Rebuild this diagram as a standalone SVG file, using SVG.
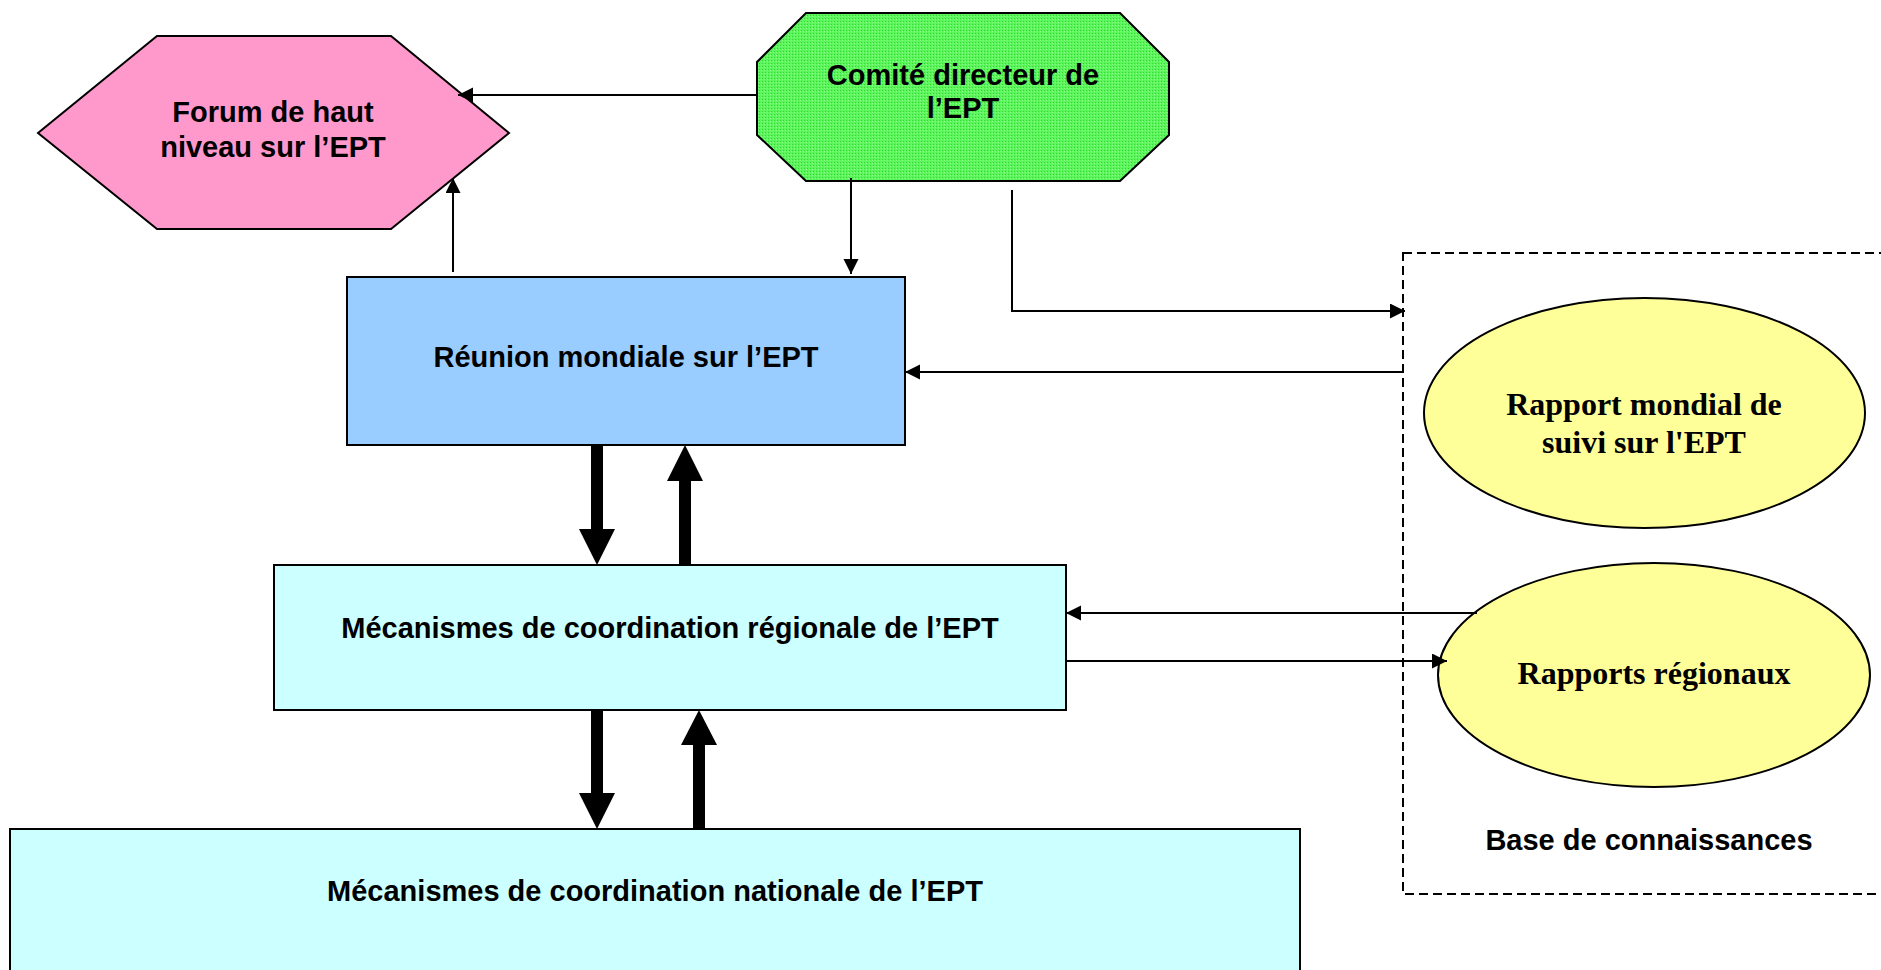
<svg xmlns="http://www.w3.org/2000/svg" width="1881" height="970" viewBox="0 0 1881 970">
  <style>
    .shape { stroke: #000; stroke-width: 2; }
    .lbl { font-family: "Liberation Sans", Arial, sans-serif; font-weight: bold; font-size: 29px; fill: #000; text-anchor: middle; }
    .lbls { font-family: "Liberation Serif", "Times New Roman", serif; font-weight: bold; font-size: 32px; fill: #000; text-anchor: middle; }
    .conn { stroke: #000; stroke-width: 2; fill: none; }
    .thick { fill: #000; stroke: none; }
  </style>
  <defs>
    <marker id="ah" markerUnits="userSpaceOnUse" markerWidth="16" markerHeight="16" refX="15" refY="7.5" orient="auto">
      <path d="M0,0 L15,7.5 L0,15 z" fill="#000"/>
    </marker>
    <pattern id="greenTex" patternUnits="userSpaceOnUse" width="3" height="3">
      <rect width="3" height="3" fill="#5cf55c"/>
      <rect x="0" y="0" width="1" height="1" fill="#33d633"/>
      <rect x="2" y="1" width="1" height="1" fill="#8cff8c"/>
    </pattern>
  </defs>

  <g id="knowledge-base">
    <rect x="1403" y="253" width="490" height="641" fill="none" stroke="#000" stroke-width="2" stroke-dasharray="9,5"/>
    <text class="lbl" x="1649" y="850">Base de connaissances</text>
  </g>

  <g id="forum">
    <polygon class="shape" points="157,36 391,36 509,133 391,229 157,229 38,133" fill="#ff99cc"/>
    <text class="lbl" x="273" y="122" font-size="28">Forum de haut</text>
    <text class="lbl" x="273" y="157" font-size="28">niveau sur l’EPT</text>
  </g>

  <g id="comite">
    <polygon class="shape" points="806,13 1120,13 1169,62 1169,135 1120,181 806,181 757,135 757,62" fill="url(#greenTex)"/>
    <text class="lbl" x="963" y="85">Comité directeur de</text>
    <text class="lbl" x="963" y="118">l’EPT</text>
  </g>

  <g id="reunion">
    <rect class="shape" x="347" y="277" width="558" height="168" fill="#99ccff"/>
    <text class="lbl" x="626" y="367">Réunion mondiale sur l’EPT</text>
  </g>

  <g id="regional">
    <rect class="shape" x="274" y="565" width="792" height="145" fill="#ccffff"/>
    <text class="lbl" x="670" y="638">Mécanismes de coordination régionale de l’EPT</text>
  </g>

  <g id="national">
    <rect class="shape" x="10" y="829" width="1290" height="160" fill="#ccffff"/>
    <text class="lbl" x="655" y="901">Mécanismes de coordination nationale de l’EPT</text>
  </g>

  <g id="rapport-mondial">
    <ellipse class="shape" cx="1644.5" cy="413" rx="220.5" ry="115" fill="#ffff99"/>
    <text class="lbls" x="1644" y="415">Rapport mondial de</text>
    <text class="lbls" x="1644" y="453">suivi sur l'EPT</text>
  </g>

  <g id="rapports-regionaux">
    <ellipse class="shape" cx="1654" cy="675" rx="216" ry="112" fill="#ffff99"/>
    <text class="lbls" x="1654" y="684">Rapports régionaux</text>
  </g>

  <g id="connectors">
    <line class="conn" x1="757" y1="95" x2="458" y2="95" marker-end="url(#ah)"/>
    <line class="conn" x1="453" y1="272" x2="453" y2="178" marker-end="url(#ah)"/>
    <line class="conn" x1="851" y1="178" x2="851" y2="274" marker-end="url(#ah)"/>
    <polyline class="conn" points="1012,190 1012,311 1405,311" marker-end="url(#ah)"/>
    <polyline class="conn" points="1403,366 1403,372 905,372" marker-end="url(#ah)"/>
    <line class="conn" x1="1477" y1="613" x2="1066" y2="613" marker-end="url(#ah)"/>
    <line class="conn" x1="1066" y1="661" x2="1447" y2="661" marker-end="url(#ah)"/>

    <rect class="thick" x="591" y="445" width="12" height="85"/>
    <polygon class="thick" points="579,529 615,529 597,565"/>
    <rect class="thick" x="679" y="480" width="12" height="85"/>
    <polygon class="thick" points="667,481 703,481 685,445"/>

    <rect class="thick" x="591" y="710" width="12" height="84"/>
    <polygon class="thick" points="579,793 615,793 597,829"/>
    <rect class="thick" x="693" y="744" width="12" height="85"/>
    <polygon class="thick" points="681,745 717,745 699,710"/>
  </g>
</svg>
